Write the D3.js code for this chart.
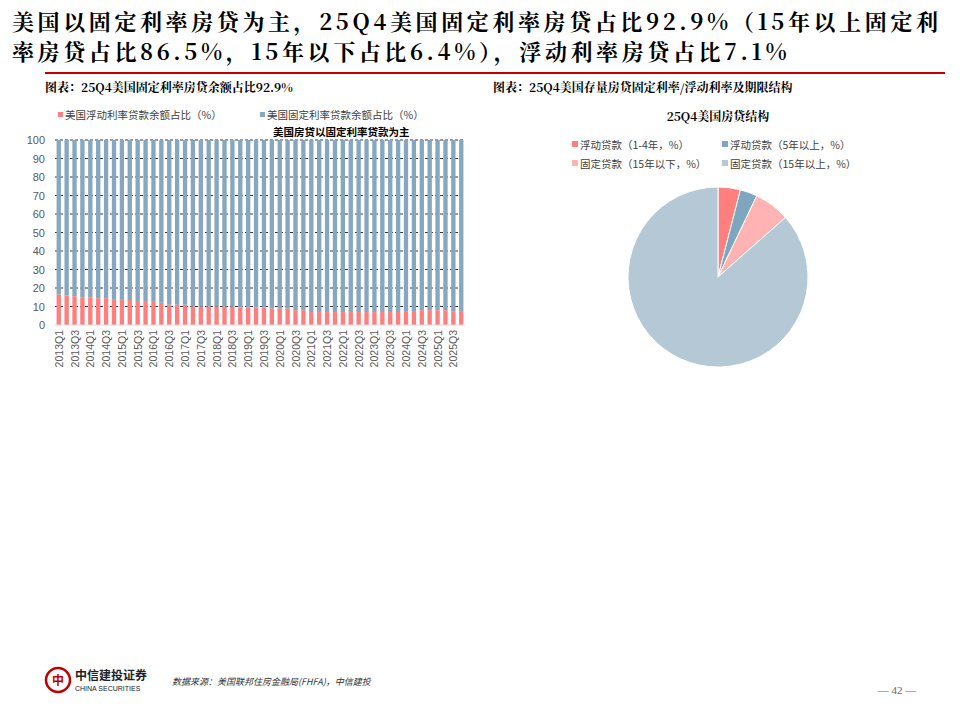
<!DOCTYPE html><html><head><meta charset="utf-8"><script src="https://cdn.jsdelivr.net/npm/d3@7"></script>
<style>body{margin:0;background:#fff}</style></head><body><svg id="c" width="960" height="720"></svg>
<script>
const quarters=[];for(let y=2013;y<=2025;y++)for(let q=1;q<=4;q++)quarters.push(y+"Q"+q);
const floating=[16.5,16,15.5,15,15,14.5,14.5,14,14,13.5,13,12.5,12.5,12,11,11,11,10,10,10,10,10,10,9.5,9.5,9.5,9.5,9,9,9,8,8,7,7,7,7,7,7,7,7,7,7,7,7,7.5,7.5,8,8,8,8,7.2,7.1];
const yTicks=[0,10,20,30,40,50,60,70,80,90,100];
const pieLabels=["浮动贷款（1-4年，%）","浮动贷款（5年以上，%）","固定贷款（15年以下，%）","固定贷款（15年以上，%）"];
const pieValues=[4.0,3.1,6.4,86.5];
const pieColors=["#ff7f7f","#7fa6bf","#ffb3b3","#b4c8d6"];
const svg=d3.select("#c");
const serif="'Noto Serif CJK SC','Noto Sans CJK SC',serif";
const sans="'Noto Sans CJK SC',sans-serif";
svg.append("text").attr("x",12).attr("y",30).attr("font-family",serif).attr("font-weight","bold").attr("font-size",22).attr("letter-spacing",3.6).text("美国以固定利率房贷为主，25Q4美国固定利率房贷占比92.9%（15年以上固定利");
svg.append("text").attr("x",12).attr("y",60).attr("font-family",serif).attr("font-weight","bold").attr("font-size",22).attr("letter-spacing",3.6).text("率房贷占比86.5%，15年以下占比6.4%），浮动利率房贷占比7.1%");
svg.append("rect").attr("x",45).attr("y",72).attr("width",900).attr("height",2).attr("fill","#c00000");
svg.append("text").attr("x",45).attr("y",92).attr("font-family",serif).attr("font-weight","bold").attr("font-size",12).text("图表：25Q4美国固定利率房贷余额占比92.9%");
svg.append("text").attr("x",493).attr("y",92).attr("font-family",serif).attr("font-weight","bold").attr("font-size",12).text("图表：25Q4美国存量房贷固定利率/浮动利率及期限结构");
const x=d3.scaleBand().domain(quarters).range([55,465]).paddingInner(0.45).paddingOuter(0.2);
const y=d3.scaleLinear().domain([0,100]).range([325,140]);
const g=svg.append("g");
yTicks.forEach(t=>{ if(t>0) g.append("line").attr("x1",55).attr("x2",465).attr("y1",y(t)).attr("y2",y(t)).attr("stroke","#000").attr("stroke-dasharray","3,2").attr("stroke-width",0.8);
 g.append("text").attr("x",45).attr("y",y(t)+4).attr("text-anchor","end").attr("font-family","Arial,Liberation Sans").attr("font-size",11).attr("fill","#595959").text(t);});
g.selectAll(".f").data(quarters).join("rect").attr("x",d=>x(d)).attr("width",x.bandwidth()).attr("y",(d,i)=>y(floating[i])).attr("height",(d,i)=>y(0)-y(floating[i])).attr("fill","#ff7f7f");
g.selectAll(".x").data(quarters).join("rect").attr("x",d=>x(d)).attr("width",x.bandwidth()).attr("y",y(100)).attr("height",(d,i)=>y(floating[i])-y(100)).attr("fill","#86a7bf");
g.append("line").attr("x1",55).attr("x2",465).attr("y1",325).attr("y2",325).attr("stroke","#d9d9d9");
quarters.forEach((q,i)=>{ if(i%2==0) g.append("text").attr("transform",`translate(${x(q)+x.bandwidth()/2+4},330) rotate(-90)`).attr("text-anchor","end").attr("font-family","Arial,Liberation Sans").attr("font-size",10.5).attr("fill","#595959").text(q);});
[["美国浮动利率贷款余额占比（%）","#ff7f7f",58],["美国固定利率贷款余额占比（%）","#86a7bf",260]].forEach(l=>{svg.append("rect").attr("x",l[2]).attr("y",112).attr("width",5).attr("height",5).attr("fill",l[1]);
 svg.append("text").attr("x",l[2]+7).attr("y",119).attr("font-family",sans).attr("font-size",10.5).attr("fill","#404040").text(l[0]);});
svg.append("text").attr("x",273).attr("y",136).attr("font-family",sans).attr("font-size",10.5).attr("font-weight","bold").text("美国房贷以固定利率贷款为主");
svg.append("text").attr("x",718).attr("y",121).attr("text-anchor","middle").attr("font-family",serif).attr("font-weight","bold").attr("font-size",12).text("25Q4美国房贷结构");
const lp=[[572,149],[722,149],[572,168],[722,168]];
pieLabels.forEach((l,i)=>{svg.append("rect").attr("x",lp[i][0]).attr("y",lp[i][1]-8).attr("width",6).attr("height",6).attr("fill",pieColors[i]);
 svg.append("text").attr("x",lp[i][0]+8).attr("y",lp[i][1]).attr("font-family",sans).attr("font-size",10.5).attr("fill","#404040").text(l);});
const pie=d3.pie().sort(null)(pieValues);
const arc=d3.arc().innerRadius(0).outerRadius(90);
svg.append("g").attr("transform","translate(718,277)").selectAll("path").data(pie).join("path").attr("d",arc).attr("fill",(d,i)=>pieColors[i]).attr("stroke","#fff").attr("stroke-width",1);
svg.append("circle").attr("cx",58).attr("cy",680).attr("r",12).attr("fill","none").attr("stroke","#c00000").attr("stroke-width",2.5);
svg.append("text").attr("x",58).attr("y",685).attr("text-anchor","middle").attr("fill","#c00000").attr("font-size",12).attr("font-weight","bold").attr("font-family",sans).text("中");
svg.append("text").attr("x",75).attr("y",680).attr("font-family",sans).attr("font-weight","bold").attr("font-size",12).attr("fill","#222").text("中信建投证券");
svg.append("text").attr("x",75).attr("y",691).attr("font-family","Arial,Liberation Sans").attr("font-size",7).attr("fill","#222").text("CHINA SECURITIES");
svg.append("text").attr("x",172).attr("y",685).attr("font-family",sans).attr("font-style","italic").attr("font-size",9).attr("fill","#333").text("数据来源：美国联邦住房金融局(FHFA)，中信建投");
svg.append("text").attr("x",897).attr("y",694).attr("text-anchor","middle").attr("font-family","Liberation Serif,serif").attr("font-size",11).attr("fill","#666").text("— 42 —");
</script></body></html>
